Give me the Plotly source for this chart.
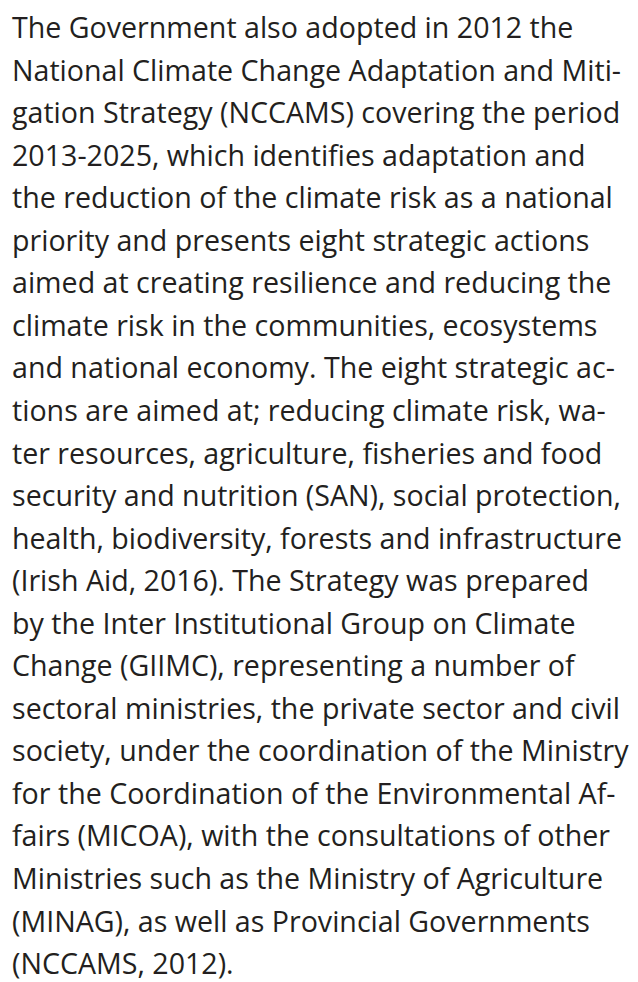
import plotly.graph_objects as go

lines = [
    "The Government also adopted in 2012 the",
    "National Climate Change Adaptation and Miti-",
    "gation Strategy (NCCAMS) covering the period",
    "2013-2025, which identifies adaptation and",
    "the reduction of the climate risk as a national",
    "priority and presents eight strategic actions",
    "aimed at creating resilience and reducing the",
    "climate risk in the communities, ecosystems",
    "and national economy. The eight strategic ac-",
    "tions are aimed at; reducing climate risk, wa-",
    "ter resources, agriculture, ﬁsheries and food",
    "security and nutrition (SAN), social protection,",
    "health, biodiversity, forests and infrastructure",
    "(Irish Aid, 2016). The Strategy was prepared",
    "by the Inter Institutional Group on Climate",
    "Change (GIIMC), representing a number of",
    "sectoral ministries, the private sector and civil",
    "society, under the coordination of the Ministry",
    "for the Coordination of the Environmental Af-",
    "fairs (MICOA), with the consultations of other",
    "Ministries such as the Ministry of Agriculture",
    "(MINAG), as well as Provincial Governments",
    "(NCCAMS, 2012).",
]

W, H = 638, 982
first_center = 18.5
spacing = 42.55

fig = go.Figure()
for i, t in enumerate(lines):
    yc = first_center + i * spacing
    fig.add_annotation(
        text=t, xref="paper", yref="paper",
        x=4 / W, y=1 - yc / H,
        xanchor="left", yanchor="middle",
        showarrow=False, borderpad=0, borderwidth=0,
        font=dict(family="Open Sans", size=28.6, color="#231f20"),
    )

fig.update_layout(
    width=W, height=H,
    margin=dict(l=0, r=0, t=0, b=0),
    paper_bgcolor="white", plot_bgcolor="white",
    xaxis=dict(visible=False), yaxis=dict(visible=False),
    showlegend=False,
)
fig.write_html("out.html")
